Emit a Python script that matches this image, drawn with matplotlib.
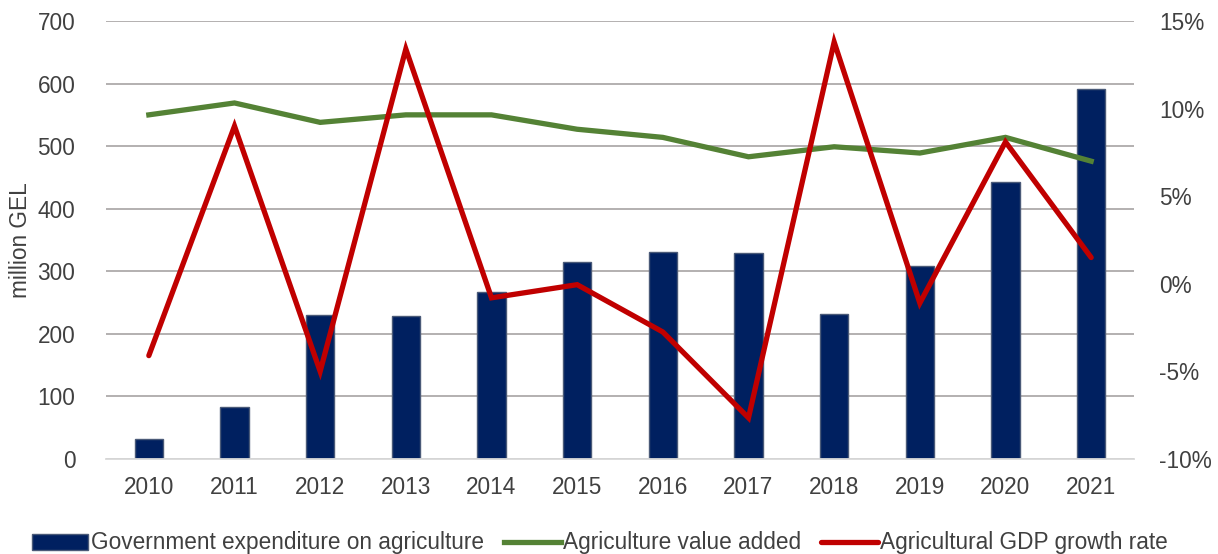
import matplotlib
matplotlib.use("Agg")
import matplotlib.pyplot as plt
from matplotlib.ticker import FuncFormatter
import numpy as np

plt.rcParams['font.family'] = ['Liberation Sans', 'DejaVu Sans']

years = ['2010', '2011', '2012', '2013', '2014', '2015', '2016', '2017', '2018', '2019', '2020', '2021']
gov_expenditure = [32, 83, 230, 228, 267, 315, 331, 329, 231, 308, 443, 591]
value_added = [550, 569, 538, 550, 550, 527, 514, 483, 499, 489, 514, 476]
gdp_growth = [-4.1, 9.0, -5.0, 13.4, -0.8, -0.05, -2.75, -7.65, 13.8, -1.1, 8.1, 1.5]

label_bar = 'Government expenditure on agriculture'
label_green = 'Agriculture value added'
label_red = 'Agricultural GDP growth rate'

FS = 16.3
TXT = '#404040'

fig = plt.figure(figsize=(12.18, 5.54), dpi=100)
ax = fig.add_axes([106/1218, 1-459/554, (1134-106)/1218, (459-21)/554])
ax2 = ax.twinx()

x = np.arange(len(years))
bars = ax.bar(x, gov_expenditure, width=0.33, color='#002060', edgecolor='#4a5a78',
              linewidth=1.0, zorder=2, label=label_bar)
l1, = ax.plot(x, value_added, color='#548235', lw=3.8, zorder=3, label=label_green,
              solid_joinstyle='miter')
l2, = ax2.plot(x, gdp_growth, color='#C00000', lw=3.8, zorder=3, label=label_red,
               solid_capstyle='round', solid_joinstyle='miter')

ax.set_xlim(-0.5, len(years) - 0.5)
ax.set_ylim(0, 700)
ax.set_yticks(range(0, 701, 100))
ax2.set_ylim(-10, 15)
ax2.set_yticks(range(-10, 16, 5))
ax2.yaxis.set_major_formatter(FuncFormatter(lambda v, p: f'{int(v)}%'))

ax.set_xticks(x)
ax.set_xticklabels(years)

ax.grid(axis='y', color='#AEAAAA', lw=1.3, zorder=0)
ax.set_axisbelow(True)
for a in (ax, ax2):
    for s in a.spines.values():
        s.set_visible(False)
ax.spines['bottom'].set_visible(True)
ax.spines['bottom'].set_color('#D9D9D9')
ax.spines['bottom'].set_linewidth(1.3)

ax.tick_params(axis='both', length=0, labelsize=FS, labelcolor=TXT)
ax.tick_params(axis='y', pad=22)
ax.tick_params(axis='x', pad=12)
ax2.tick_params(axis='y', length=0, labelsize=FS, labelcolor=TXT, pad=18)

ax.set_ylabel('million GEL', fontsize=FS, color=TXT, labelpad=4)

ax.patch.set_visible(False)
ax2.set_zorder(ax.get_zorder() + 1)
ax2.patch.set_visible(False)

leg = fig.legend([bars, l1, l2], [label_bar, label_green, label_red],
                 loc='center', bbox_to_anchor=(600/1218, 1-543/554), ncol=3,
                 frameon=False, fontsize=FS, handlelength=2.5, handletextpad=0.1,
                 columnspacing=0.9, labelcolor=TXT)

fig.savefig('out.png', dpi=100)
